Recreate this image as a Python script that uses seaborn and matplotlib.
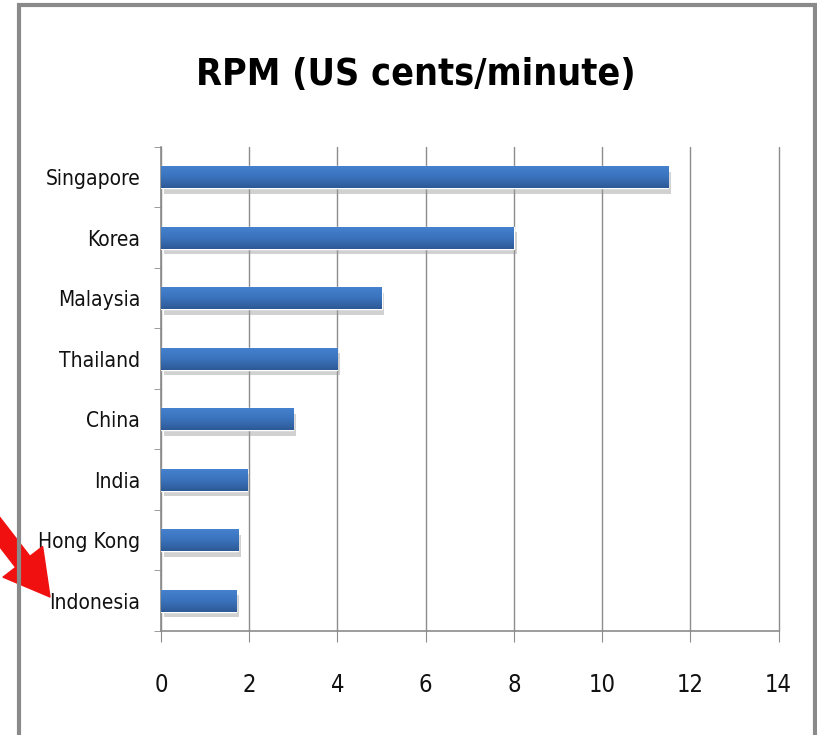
import os
import seaborn as sns
import matplotlib.pyplot as plt
import matplotlib.patheffects as pe
from matplotlib import font_manager
from matplotlib.colors import LinearSegmentedColormap
from matplotlib.patches import Rectangle
import pandas as pd
import numpy as np

countries = ['Singapore', 'Korea', 'Malaysia', 'Thailand', 'China', 'India', 'Hong Kong', 'Indonesia']
rpm = [11.5, 8.0, 5.0, 4.0, 3.0, 1.95, 1.75, 1.7]
xticks = [0, 2, 4, 6, 8, 10, 12, 14]

df = pd.DataFrame({'Country': countries, 'RPM': rpm})


def find_font(stems):
    # look for a narrow face on the system, first hit wins
    files = {os.path.splitext(os.path.basename(f.fname))[0]: f.fname
             for f in font_manager.fontManager.ttflist}
    for s in stems:
        if s in files:
            return font_manager.FontProperties(fname=files[s])
    return font_manager.FontProperties(family='Lato')


lab_font = find_font(['NotoSans-ExtraCondensed', 'NotoSans-Condensed',
                      'LiberationSansNarrow-Regular', 'DejaVuSansCondensed'])
title_font = find_font(['NotoSans-ExtraCondensedSemiBold', 'NotoSans-ExtraCondensedBold',
                        'NotoSans-CondensedSemiBold', 'NotoSans-CondensedBold',
                        'LiberationSansNarrow-Bold', 'DejaVuSansCondensed-Bold'])

sns.set_style('white')

fig = plt.figure(figsize=(8.17, 7.35), dpi=100)
ax = fig.add_axes([0.197, 0.1415, 0.756, 0.6585])

sns.barplot(x='RPM', y='Country', data=df, orient='h', color='#3a70b8',
            saturation=1, width=0.37, ax=ax, zorder=3)

# soft shadow + top-to-bottom gradient like the office chart
grad = LinearSegmentedColormap.from_list('bar', ['#4682cf', '#3b73bd', '#2d5a96'])
for p in ax.patches:
    p.set_path_effects([pe.SimplePatchShadow(offset=(2, -4), shadow_rgbFace='#999999', alpha=0.45),
                        pe.Normal()])
    x0, y0 = p.get_x(), p.get_y()
    w, h = p.get_width(), p.get_height()
    im = ax.imshow(np.linspace(0, 1, 50).reshape(-1, 1), cmap=grad, aspect='auto',
                   extent=(x0, x0 + w, y0 + h, y0), origin='upper', zorder=4)
    im.set_clip_path(p)

ax.set_xlim(0, 14)
ax.set_ylim(7.5, -0.5)
ax.set_xticks(xticks)
ax.xaxis.grid(True, color='#8c8c8c', linewidth=1)
for gl in ax.get_xgridlines():
    gl.set_clip_on(False)
ax.set_axisbelow(True)
for s in ['top', 'right']:
    ax.spines[s].set_visible(False)
for s in ['left', 'bottom']:
    ax.spines[s].set_color('#8c8c8c')
    ax.spines[s].set_linewidth(1.2)

ax.set_yticks(np.arange(-0.5, 8, 1), minor=True)
ax.tick_params(axis='y', which='major', length=0, pad=15)
ax.tick_params(axis='y', which='minor', length=5, color='#8c8c8c', direction='out', left=True)
ax.tick_params(axis='x', length=8, color='#8c8c8c', direction='out', bottom=True, pad=22)
for t in ax.get_yticklabels():
    t.set_fontproperties(lab_font)
    t.set_fontsize(15)
    t.set_color('#111111')
for t in ax.get_xticklabels():
    t.set_fontproperties(lab_font)
    t.set_fontsize(17)
    t.set_color('#111111')

ax.set_xlabel('')
ax.set_ylabel('')
fig.text(0.509, 0.898, 'RPM (US cents/minute)', ha='center', va='center',
         fontproperties=title_font, fontsize=27, color='#000000')

# chart border
fig.patches.append(Rectangle((19 / 817, -0.1), (815 - 19) / 817, 1.1 - 5 / 735,
                             transform=fig.transFigure, fill=False,
                             edgecolor='#8a8a8a', linewidth=3))

# red arrow pointing at Indonesia
ax.annotate('', xy=(50 / 817, 1 - 597 / 735), xycoords='figure fraction',
            xytext=(-25 / 817, 1 - 500 / 735), textcoords='figure fraction',
            arrowprops=dict(arrowstyle='simple,head_length=1.6,head_width=1.8,tail_width=0.65',
                            color='#f01010', mutation_scale=20, shrinkA=0, shrinkB=0),
            annotation_clip=False)

fig.savefig('out.png', dpi=100)
